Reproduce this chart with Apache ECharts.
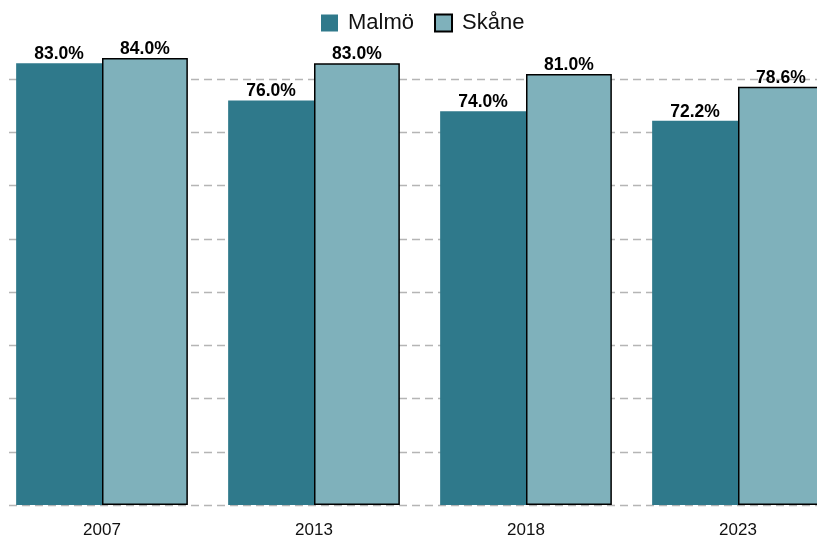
<!DOCTYPE html>
<html><head><meta charset="utf-8">
<script src="https://cdn.jsdelivr.net/npm/echarts@6/dist/echarts.min.js"></script>
<style>html,body{margin:0;padding:0;background:#fff}#c{width:817px;height:541px}</style>
</head><body><div id="c"></div>
<script>
const categories = ['2007', '2013', '2018', '2023'];
const malmo = [83.0, 76.0, 74.0, 72.2];
const skane = [84.0, 83.0, 81.0, 78.6];
const seriesNames = ['Malmö', 'Skåne'];

const chart = echarts.init(document.getElementById('c'));
const FONT = '"Liberation Sans", Arial, sans-serif';
const labelCfg = {
  show: true, position: 'top', distance: 0,
  formatter: p => p.value.toFixed(1) + '%',
  fontFamily: FONT, fontWeight: 'bold', fontSize: 17.5, color: '#000'
};
chart.setOption({
  animation: false,
  legend: {
    data: seriesNames, top: 7, left: 316, icon: 'rect',
    itemWidth: 17, itemHeight: 17, itemGap: 20,
    textStyle: {fontFamily: FONT, fontSize: 22, color: '#111', padding: [0, 0, 0, 5]}
  },
  grid: [
    {left: 9, right: 0, top: 26, bottom: 36, outerBoundsMode: 'none', containLabel: false},
    {left: -4, right: -27, top: 26, bottom: 36, outerBoundsMode: 'none', containLabel: false}
  ],
  xAxis: [
    {gridIndex: 0, type: 'category', data: categories, show: false},
    {gridIndex: 1, type: 'category', data: categories,
     axisLine: {show: false}, axisTick: {show: false},
     axisLabel: {fontFamily: FONT, fontSize: 17, color: '#111', margin: 17}}
  ],
  yAxis: [
    {gridIndex: 0, type: 'value', min: 0, max: 90, interval: 10,
     axisLabel: {show: false}, axisLine: {show: false}, axisTick: {show: false},
     splitLine: {show: true, showMaxLine: false, lineStyle: {color: '#b5b5b5', type: [8, 5], width: 1.3}}},
    {gridIndex: 1, type: 'value', min: 0, max: 90, interval: 10, show: false,
     splitLine: {show: false}}
  ],
  series: [
    {name: seriesNames[0], type: 'bar', xAxisIndex: 1, yAxisIndex: 1, data: malmo,
     barGap: '0%', barCategoryGap: '19%',
     itemStyle: {color: '#2f798b'}, label: labelCfg},
    {name: seriesNames[1], type: 'bar', xAxisIndex: 1, yAxisIndex: 1, data: skane,
     barGap: '0%', barCategoryGap: '19%',
     itemStyle: {color: '#7fb1bb', borderColor: '#000', borderWidth: 1.5}, label: labelCfg}
  ]
});
</script></body></html>
